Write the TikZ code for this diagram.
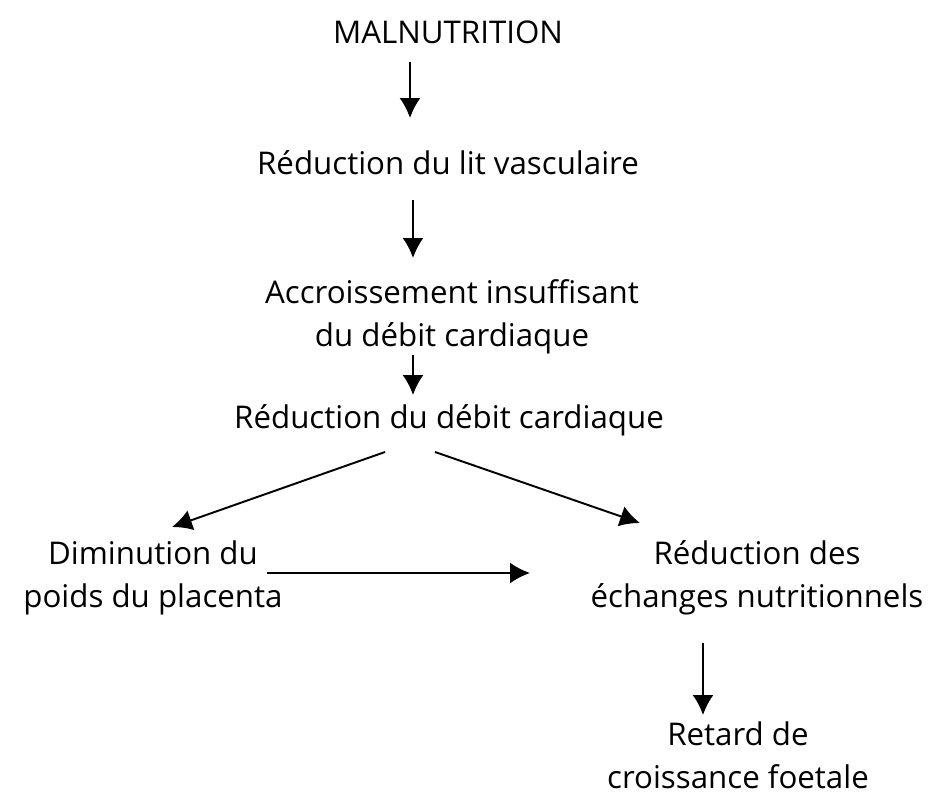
\documentclass[tikz,border=0pt]{standalone}
\usepackage{fontspec}
\setmainfont{Open Sans}
\usepackage{tikz}
\usetikzlibrary{arrows.meta, positioning, calc}

\begin{document}
\begin{tikzpicture}[
    x=0.02cm, y=-0.02cm,
    txt/.style={inner sep=0pt, align=center, font=\fontsize{17.8}{24.5}\selectfont},
    arrow/.style={-{Latex[length=0.4cm, width=0.42cm]}, line width=1.1pt}
]
\useasboundingbox (0,0) rectangle (932,797);

% chaine centrale
\node[txt] (mal) at (448,32) {MALNUTRITION};
\node[txt] (lit) at (448,163) {Réduction du lit vasculaire};
\node[txt] (acc) at (452,317) {Accroissement insuffisant\\du débit cardiaque};
\node[txt] (red) at (449,420) {Réduction du débit cardiaque};

% branches
\node[txt] (dim) at (153,578) {Diminution du\\poids du placenta};
\node[txt] (ech) at (757,578) {Réduction des\\échanges nutritionnels};
\node[txt] (ret) at (738,755) {Retard de\\croissance foetale};

\draw[arrow] ($(mal)+(-38,30)$) -- ($(lit)+(-38,-45)$);
\draw[arrow] ($(lit)+(-35,37)$) -- ($(acc)+(-39,-59)$);
\draw[arrow] ($(acc)+(-39,38)$) -- ($(red)+(-36,-25)$);
\draw[arrow] ($(red)+(-64,32)$) -- ($(dim)+(19,-51)$);
\draw[arrow] ($(red)+(-14,32)$) -- ($(ech)+(-117,-55)$);
\draw[arrow] ($(dim)+(114,-5)$) -- ($(ech)+(-227,-5)$);
\draw[arrow] ($(ech)+(-54,65)$) -- ($(ret)+(-35,-40)$);
\end{tikzpicture}
\end{document}
